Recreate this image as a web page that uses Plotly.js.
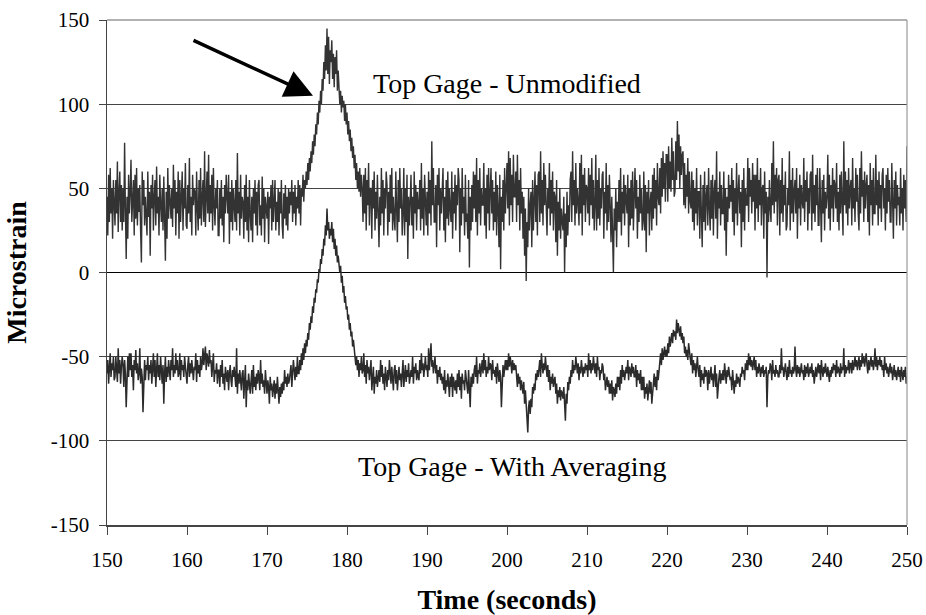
<!DOCTYPE html>
<html>
<head>
<meta charset="utf-8">
<script src="https://cdn.plot.ly/plotly-3.0.1.min.js"></script>
<style>html,body{margin:0;padding:0;background:#fff;}#chart{width:926px;height:615px;}</style>
</head>
<body>
<div id="chart"></div>
<script>
// Sampling of the recorded signals (seconds)
const timeStart = 150;
const timeStep = 0.1;

// Top Gage - Unmodified (microstrain), one row per second (150 ... 249), then 250
const unmodified = [
 45,22,58,30,62,35,50,20,55,40,
 28,55,35,66,24,48,60,30,52,25,
 50,30,77,38,8,45,20,58,35,48,
 67,30,44,55,22,58,32,62,28,50,
 36,52,25,6,60,40,55,28,45,35,
 22,60,33,48,10,52,38,58,25,45,
 55,28,63,35,45,22,58,40,30,50,
 25,57,35,7,48,20,62,32,52,40,
 32,50,27,64,38,55,22,48,35,60,
 20,55,30,45,60,25,50,38,65,28,
 26,52,35,68,30,45,22,58,40,50,
 48,22,60,38,25,55,32,62,28,45,
 55,30,72,27,45,60,35,70,30,52,
 35,58,25,62,40,28,50,38,55,22,
 22,50,32,55,28,45,18,52,35,58,
 45,35,58,17,48,30,55,25,50,38,
 30,55,25,71,35,48,22,58,32,45,
 42,20,52,30,58,25,45,18,55,35,
 25,45,18,50,35,55,28,48,22,52,
 55,28,40,22,57,32,50,18,45,38,
 32,48,17,45,38,52,25,55,30,42,
 55,25,42,30,50,22,48,35,55,28,
 20,47,32,52,28,45,25,50,35,48,
 40,55,30,48,35,52,28,45,38,55,
 35,52,28,50,45,58,42,55,50,60,
 52,65,55,68,60,72,65,78,70,82,
 75,88,82,95,88,102,95,108,100,115,
 108,125,115,135,120,145,118,140,112,132,
 125,138,115,130,110,128,118,132,108,120,
 112,100,108,95,105,98,102,90,100,88,
 95,82,90,78,85,72,80,68,75,62,
 70,55,65,50,60,48,62,45,58,50,
 30,58,35,62,25,55,40,65,28,50,
 50,20,55,38,60,25,48,32,58,42,
 15,45,28,62,35,55,22,50,38,60,
 52,22,48,30,58,35,62,25,45,32,
 25,60,40,18,55,30,62,38,50,22,
 35,62,22,50,30,58,8,45,28,55,
 58,28,45,20,60,35,52,25,48,38,
 38,55,25,65,32,50,22,58,40,28,
 48,22,60,35,55,28,78,40,62,30,
 30,52,15,58,40,62,25,50,35,55,
 62,25,45,18,55,32,60,28,50,38,
 30,60,20,48,35,58,25,52,40,62,
 55,12,50,28,62,35,45,22,58,30,
 35,20,55,3,45,25,52,30,60,38,
 58,30,68,22,55,35,62,28,50,40,
 40,65,28,50,20,58,35,62,25,48,
 62,35,55,25,48,30,60,22,52,38,
 15,58,2,45,30,55,25,62,35,50,
 65,38,72,28,68,40,58,30,70,45,
 45,60,30,70,40,55,25,62,35,48,
 20,45,10,38,-5,30,15,50,25,40,
 48,15,55,25,40,60,30,52,22,58,
 60,30,72,35,55,28,65,40,58,32,
 22,50,38,65,28,55,35,60,25,48,
 45,18,55,10,42,25,50,20,38,30,
 25,45,0,35,15,48,22,40,30,55,
 60,30,72,40,55,28,65,35,50,42,
 28,65,35,70,22,58,40,62,30,52,
 50,35,62,28,58,40,68,32,55,25,
 40,70,25,55,32,62,28,50,38,58,
 60,20,48,35,65,25,52,30,58,40,
 18,45,28,0,38,25,50,15,42,30,
 55,30,62,22,48,35,58,28,52,38,
 35,58,15,50,28,55,32,60,25,45,
 62,38,55,20,45,30,58,35,50,25,
 30,60,25,52,12,48,35,55,22,42,
 48,25,58,32,62,38,55,28,65,45,
 40,62,35,68,45,72,50,65,42,70,
 70,42,75,50,66,48,80,55,72,45,
 48,78,55,90,60,82,50,75,58,70,
 72,40,65,38,58,45,68,35,60,42,
 38,60,30,55,25,50,35,62,28,48,
 48,20,58,35,15,52,30,60,25,45,
 52,28,62,38,25,55,32,58,22,48,
 55,32,72,20,48,38,60,28,52,35,
 35,60,25,50,10,45,30,58,38,52,
 42,62,30,55,22,50,35,65,28,48,
 58,35,48,15,55,30,62,25,50,40,
 40,68,30,62,45,55,35,65,42,58,
 25,58,38,68,30,55,40,62,28,50,
 52,20,60,35,48,-3,45,30,55,38,
 30,65,40,78,35,58,42,62,28,55,
 58,22,55,35,68,30,52,40,60,25,
 28,50,40,72,25,55,35,62,30,48,
 55,35,62,20,50,38,58,28,52,42,
 38,68,30,55,42,60,25,50,35,58,
 60,25,70,35,52,30,58,40,62,28,
 28,62,40,18,55,35,58,25,48,38,
 45,70,32,58,25,52,38,62,30,55,
 52,38,65,30,48,25,58,35,60,42,
 22,78,40,60,35,55,28,62,38,50,
 55,28,68,38,50,30,62,42,58,35,
 25,62,35,72,45,55,30,60,38,52,
 58,30,52,22,65,40,55,28,62,35,
 35,70,40,55,28,60,38,52,30,58,
 62,38,50,25,58,35,62,42,55,30,
 30,65,42,20,55,38,60,28,52,40,
 45,28,62,35,50,25,58,38,55,30,
 75
];

// Top Gage - With Averaging (microstrain), one row per second (150 ... 249), then 250
const averaged = [
 -60,-52,-66,-55,-48,-62,-54,-58,-50,-64,
 -62,-50,-58,-65,-45,-60,-52,-66,-56,-50,
 -55,-68,-52,-60,-80,-58,-50,-62,-48,-58,
 -48,-62,-55,-70,-52,-58,-46,-60,-54,-64,
 -60,-45,-66,-57,-62,-83,-58,-52,-64,-55,
 -58,-50,-64,-55,-60,-52,-66,-56,-48,-62,
 -52,-68,-58,-48,-62,-55,-64,-50,-58,-66,
 -55,-78,-60,-50,-65,-56,-62,-52,-58,-64,
 -52,-58,-45,-62,-55,-60,-48,-58,-52,-62,
 -60,-48,-64,-52,-58,-55,-62,-50,-56,-64,
 -66,-55,-50,-62,-54,-60,-52,-58,-64,-56,
 -58,-48,-65,-52,-60,-55,-62,-50,-58,-54,
 -45,-55,-50,-44,-58,-48,-52,-56,-46,-54,
 -52,-62,-55,-48,-65,-58,-60,-54,-66,-58,
 -58,-68,-55,-62,-52,-66,-60,-70,-56,-64,
 -65,-58,-70,-60,-55,-64,-68,-58,-62,-56,
 -62,-68,-45,-72,-60,-66,-58,-64,-70,-60,
 -58,-75,-62,-55,-80,-64,-70,-60,-66,-72,
 -65,-58,-72,-55,-68,-62,-70,-60,-66,-58,
 -62,-70,-52,-66,-60,-68,-64,-72,-58,-66,
 -72,-64,-68,-78,-62,-70,-66,-74,-68,-64,
 -75,-66,-72,-62,-70,-78,-68,-74,-66,-72,
 -65,-70,-58,-66,-62,-68,-60,-66,-64,-58,
 -55,-68,-60,-52,-58,-64,-56,-62,-50,-60,
 -60,-52,-58,-48,-55,-45,-52,-42,-48,-40,
 -44,-36,-40,-30,-34,-26,-30,-20,-24,-15,
 -18,-10,-12,-4,-6,2,0,8,5,14,
 10,20,16,28,22,38,25,30,20,26,
 22,30,18,26,14,20,10,16,6,10,
 5,0,4,-6,-2,-12,-8,-18,-14,-22,
 -20,-28,-25,-34,-30,-38,-35,-44,-40,-46,
 -48,-55,-50,-58,-52,-62,-54,-58,-50,-60,
 -58,-48,-62,-55,-66,-52,-60,-56,-64,-54,
 -52,-70,-60,-56,-72,-62,-66,-58,-68,-60,
 -58,-65,-52,-62,-55,-66,-60,-70,-56,-62,
 -68,-58,-64,-52,-60,-66,-56,-62,-70,-58,
 -55,-66,-58,-70,-62,-56,-64,-60,-68,-58,
 -52,-68,-60,-55,-65,-58,-62,-54,-66,-60,
 -58,-62,-50,-66,-56,-60,-54,-64,-58,-62,
 -64,-52,-60,-48,-58,-54,-62,-56,-50,-58,
 -55,-62,-45,-58,-50,-42,-56,-52,-60,-54,
 -50,-60,-55,-66,-58,-62,-56,-64,-60,-66,
 -62,-70,-58,-72,-64,-68,-60,-66,-74,-62,
 -68,-60,-74,-62,-66,-70,-64,-72,-60,-68,
 -58,-70,-62,-75,-60,-66,-64,-70,-58,-64,
 -65,-72,-58,-66,-80,-62,-68,-60,-66,-58,
 -55,-62,-50,-66,-58,-60,-54,-62,-56,-52,
 -60,-48,-58,-52,-62,-56,-60,-50,-58,-54,
 -55,-64,-52,-60,-58,-62,-56,-66,-54,-60,
 -65,-58,-62,-80,-60,-55,-62,-58,-52,-58,
 -52,-58,-48,-56,-50,-54,-60,-52,-58,-54,
 -58,-55,-62,-68,-60,-66,-62,-70,-64,-68,
 -72,-65,-78,-70,-82,-88,-95,-80,-76,-84,
 -75,-80,-68,-72,-66,-70,-60,-64,-58,-62,
 -58,-52,-62,-48,-55,-60,-54,-58,-50,-56,
 -62,-55,-65,-58,-70,-62,-66,-60,-68,-64,
 -62,-72,-66,-78,-70,-74,-68,-76,-70,-72,
 -75,-68,-80,-88,-72,-78,-65,-70,-62,-66,
 -58,-62,-52,-60,-55,-58,-50,-56,-60,-54,
 -64,-56,-60,-52,-58,-62,-56,-60,-54,-58,
 -55,-62,-48,-58,-52,-60,-54,-58,-50,-56,
 -60,-54,-62,-50,-58,-56,-64,-58,-60,-54,
 -56,-64,-60,-70,-66,-62,-68,-64,-72,-66,
 -72,-64,-76,-68,-70,-74,-66,-72,-62,-68,
 -62,-70,-58,-66,-55,-62,-58,-64,-60,-56,
 -60,-52,-64,-56,-58,-62,-54,-60,-56,-62,
 -62,-55,-68,-58,-64,-60,-66,-58,-70,-62,
 -70,-62,-75,-68,-72,-66,-76,-70,-64,-72,
 -65,-78,-70,-66,-60,-68,-62,-70,-58,-64,
 -58,-52,-48,-55,-45,-52,-48,-44,-50,-46,
 -50,-42,-48,-38,-44,-40,-36,-42,-34,-38,
 -35,-40,-28,-36,-30,-34,-38,-32,-40,-36,
 -42,-38,-48,-44,-50,-46,-52,-42,-48,-54,
 -55,-48,-60,-52,-58,-54,-62,-56,-50,-58,
 -62,-55,-68,-58,-64,-60,-66,-56,-62,-58,
 -60,-70,-58,-66,-62,-56,-64,-60,-68,-62,
 -55,-68,-60,-75,-65,-62,-58,-66,-60,-64,
 -58,-64,-54,-60,-66,-58,-62,-56,-60,-64,
 -62,-70,-58,-66,-72,-64,-68,-60,-66,-62,
 -64,-68,-60,-62,-56,-60,-58,-64,-54,-58,
 -52,-58,-48,-55,-50,-56,-52,-58,-54,-50,
 -58,-52,-62,-56,-60,-54,-58,-62,-56,-60,
 -55,-62,-58,-60,-56,-80,-62,-58,-60,-54,
 -56,-64,-52,-60,-58,-62,-55,-60,-58,-62,
 -62,-55,-60,-45,-58,-56,-62,-58,-54,-60,
 -64,-56,-62,-52,-60,-58,-62,-56,-60,-58,
 -44,-58,-62,-55,-60,-56,-62,-58,-54,-60,
 -58,-64,-55,-62,-56,-60,-54,-62,-58,-56,
 -60,-54,-62,-58,-66,-60,-56,-62,-58,-54,
 -60,-55,-64,-52,-58,-62,-56,-60,-54,-58,
 -62,-56,-60,-65,-58,-62,-56,-60,-54,-58,
 -55,-62,-52,-60,-56,-58,-62,-54,-60,-56,
 -58,-45,-62,-55,-60,-56,-58,-52,-60,-54,
 -54,-60,-52,-58,-55,-50,-56,-52,-58,-54,
 -50,-58,-52,-56,-48,-54,-50,-56,-52,-48,
 -55,-60,-52,-58,-54,-50,-56,-52,-58,-54,
 -45,-56,-50,-58,-52,-55,-50,-56,-52,-58,
 -55,-62,-50,-58,-54,-60,-56,-62,-58,-54,
 -60,-56,-64,-58,-55,-62,-58,-64,-60,-56,
 -62,-58,-65,-56,-60,-64,-58,-62,-56,-66,
 -62
];

const xTicks = [150,160,170,180,190,200,210,220,230,240,250];
const xTickLabels = ["150","160","170","180","190","200","210","220","230","240","250"];
const yTicks = [-150,-100,-50,0,50,100,150];
const yTickLabels = ["-150","-100","-50","0","50","100","150"];
const labelTop = "Top Gage - Unmodified";
const labelBottom = "Top Gage - With Averaging";

const timesFor = arr => arr.map((_, i) => timeStart + i * timeStep);

const serif = "Liberation Serif, Times New Roman, serif";

const traces = [
  {x: timesFor(unmodified), y: unmodified, type: 'scatter', mode: 'lines',
   line: {color: '#333333', width: 1.4}, name: labelTop, hoverinfo: 'skip'},
  {x: timesFor(averaged), y: averaged, type: 'scatter', mode: 'lines',
   line: {color: '#2b2b2b', width: 1.5}, name: labelBottom, hoverinfo: 'skip'}
];

const layout = {
  width: 926, height: 615,
  margin: {l: 107, r: 19, t: 20, b: 90},
  paper_bgcolor: '#ffffff', plot_bgcolor: '#ffffff',
  showlegend: false,
  font: {family: serif, color: '#000', size: 21},
  xaxis: {
    range: [150, 250], tickvals: xTicks, ticktext: xTickLabels,
    ticks: 'outside', ticklen: 8, tickcolor: '#444',
    showgrid: false, zeroline: false, showline: true, linecolor: '#444', linewidth: 1.5,
    tickfont: {family: serif, size: 21, color: '#000'},
    ticklabelstandoff: 7,
    title: {text: '<b>Time (seconds)</b>', font: {family: serif, size: 28, color: '#000'}, standoff: 20}
  },
  yaxis: {
    range: [-150, 150], tickvals: yTicks, ticktext: yTickLabels,
    ticks: 'outside', ticklen: 7, tickcolor: '#444',
    showgrid: true, gridcolor: '#444', gridwidth: 1,
    zeroline: true, zerolinecolor: '#000', zerolinewidth: 1.6,
    showline: true, linecolor: '#444', linewidth: 1.5,
    tickfont: {family: serif, size: 21, color: '#000'},
    ticklabelstandoff: 5,
    title: {text: '<b>Microstrain</b>', font: {family: serif, size: 28, color: '#000'}, standoff: 16}
  },
  shapes: [
    {type: 'line', xref: 'paper', yref: 'paper', x0: 0, x1: 1, y0: 1, y1: 1, line: {color: '#999', width: 1.5}},
    {type: 'line', xref: 'paper', yref: 'paper', x0: 1, x1: 1, y0: 0, y1: 1, line: {color: '#999', width: 1.2}}
  ],
  annotations: [
    {x: 200, y: 112, xref: 'x', yref: 'y', text: labelTop, showarrow: false,
     font: {family: serif, size: 28, color: '#000'}},
    {x: 200.6, y: -115.5, xref: 'x', yref: 'y', text: labelBottom, showarrow: false,
     font: {family: serif, size: 28, color: '#000'}},
    {x: 175.75, y: 105, xref: 'x', yref: 'y', text: '', showarrow: true,
     ax: -121, ay: -56, axref: 'pixel', ayref: 'pixel',
     arrowhead: 2, arrowsize: 1.6, arrowwidth: 3.5, arrowcolor: '#000'}
  ]
};

Plotly.newPlot('chart', traces, layout, {displayModeBar: false, staticPlot: true});
</script>
</body>
</html>
